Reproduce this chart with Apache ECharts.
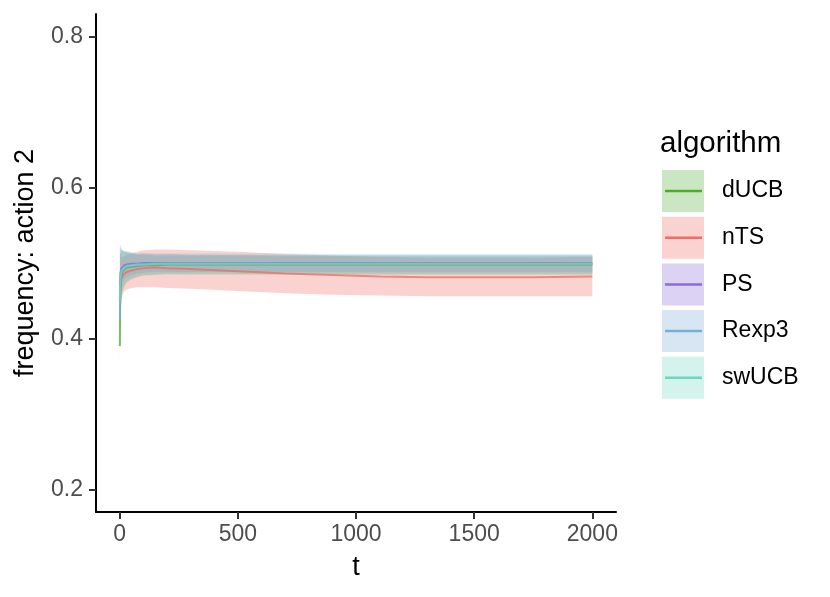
<!DOCTYPE html>
<html>
<head>
<meta charset="utf-8">
<script src="https://cdn.jsdelivr.net/npm/echarts@6/dist/echarts.min.js"></script>
<style>html,body{margin:0;padding:0;background:#fff}#c{width:830px;height:597px}</style>
</head>
<body>
<div id="c"></div>
<script>
const algorithms = ['dUCB', 'nTS', 'PS', 'Rexp3', 'swUCB'];
const tValues = [1, 2, 3, 5, 8, 12, 20, 30, 50, 75, 100, 150, 200, 300, 500, 700, 900, 1100, 1300, 1500, 1750, 2000];

const dUCB_mean = [0.390,0.440,0.462,0.476,0.484,0.489,0.492,0.494,0.495,0.496,0.497,0.497,0.498,0.498,0.498,0.498,0.498,0.498,0.498,0.498,0.498,0.498];
const dUCB_lo   = [0.370,0.395,0.420,0.440,0.453,0.462,0.469,0.474,0.478,0.481,0.483,0.484,0.485,0.485,0.485,0.485,0.485,0.485,0.485,0.485,0.485,0.485];
const dUCB_hi   = [0.450,0.495,0.509,0.514,0.516,0.516,0.515,0.514,0.512,0.511,0.511,0.510,0.510,0.510,0.510,0.509,0.509,0.509,0.509,0.509,0.509,0.509];

const nTS_mean = [0.450,0.462,0.470,0.476,0.480,0.483,0.486,0.488,0.490,0.492,0.493,0.494,0.493,0.492,0.489,0.486,0.484,0.482,0.481,0.481,0.481,0.482];
const nTS_lo   = [0.390,0.415,0.430,0.443,0.452,0.458,0.463,0.465,0.467,0.468,0.468,0.468,0.467,0.466,0.463,0.460,0.458,0.457,0.456,0.456,0.456,0.456];
const nTS_hi   = [0.520,0.514,0.512,0.510,0.508,0.508,0.509,0.511,0.513,0.515,0.517,0.518,0.518,0.517,0.515,0.512,0.510,0.508,0.507,0.507,0.507,0.508];

const PS_mean = [0.470,0.480,0.486,0.490,0.493,0.495,0.497,0.498,0.499,0.499,0.500,0.500,0.500,0.500,0.500,0.500,0.500,0.500,0.500,0.500,0.500,0.500];
const PS_lo   = [0.400,0.430,0.445,0.458,0.467,0.473,0.478,0.481,0.484,0.486,0.487,0.488,0.488,0.488,0.488,0.488,0.488,0.488,0.488,0.488,0.488,0.488];
const PS_hi   = [0.525,0.525,0.524,0.521,0.519,0.517,0.516,0.515,0.514,0.512,0.513,0.512,0.512,0.511,0.511,0.511,0.511,0.511,0.511,0.511,0.511,0.511];

const Rexp3_mean = [0.425,0.458,0.472,0.482,0.487,0.490,0.493,0.495,0.496,0.497,0.498,0.498,0.499,0.499,0.499,0.499,0.499,0.499,0.499,0.499,0.499,0.499];
const Rexp3_lo   = [0.375,0.405,0.427,0.445,0.456,0.464,0.471,0.475,0.479,0.482,0.484,0.485,0.486,0.486,0.486,0.486,0.486,0.486,0.486,0.486,0.486,0.486];
const Rexp3_hi   = [0.485,0.511,0.517,0.519,0.518,0.516,0.515,0.515,0.513,0.512,0.512,0.511,0.512,0.511,0.511,0.510,0.510,0.510,0.510,0.510,0.510,0.510];

const swUCB_mean = [0.450,0.470,0.479,0.486,0.490,0.492,0.494,0.496,0.497,0.498,0.498,0.499,0.499,0.499,0.499,0.499,0.499,0.499,0.499,0.499,0.499,0.499];
const swUCB_lo   = [0.385,0.420,0.437,0.452,0.461,0.467,0.472,0.476,0.480,0.483,0.484,0.485,0.485,0.484,0.484,0.484,0.484,0.484,0.484,0.484,0.484,0.484];
const swUCB_hi   = [0.515,0.520,0.521,0.520,0.519,0.517,0.516,0.516,0.514,0.513,0.513,0.513,0.513,0.513,0.513,0.513,0.512,0.512,0.512,0.512,0.512,0.512];

const xTicks = [0, 500, 1000, 1500, 2000];
const yTicks = [0.2, 0.4, 0.6, 0.8];

const lineColors = ['#4dad2a', '#ef6c62', '#8a6bd9', '#79aed6', '#6dd6c0'];
const fillColors = ['#cbe6c2', '#fad3d0', '#dcd2f3', '#d7e6f2', '#d3f3ec'];
const bandOpacity = [0.22, 0.3, 0.22, 0.22, 0.22];

const stats = {
  dUCB: [dUCB_mean, dUCB_lo, dUCB_hi],
  nTS: [nTS_mean, nTS_lo, nTS_hi],
  PS: [PS_mean, PS_lo, PS_hi],
  Rexp3: [Rexp3_mean, Rexp3_lo, Rexp3_hi],
  swUCB: [swUCB_mean, swUCB_lo, swUCB_hi]
};

const FONT = 'Liberation Sans';
const series = [];
algorithms.forEach((name, k) => {
  const [, lo, hi] = stats[name];
  const rows = tValues.map((t, i) => [t, lo[i], hi[i]]);
  series.push({
    name: name,
    type: 'custom',
    data: rows,
    encode: { x: 0, y: [1, 2] },
    z: 2,
    silent: true,
    animation: false,
    renderItem: function (params, api) {
      if (params.dataIndex !== 0) return null;
      const upper = rows.map(r => api.coord([r[0], r[2]]));
      const lower = rows.map(r => api.coord([r[0], r[1]])).reverse();
      return {
        type: 'polygon',
        shape: { points: upper.concat(lower) },
        style: { fill: lineColors[k], opacity: bandOpacity[k], stroke: null }
      };
    }
  });
});
algorithms.forEach((name, k) => {
  const [mean] = stats[name];
  series.push({
    name: name,
    type: 'line',
    data: tValues.map((t, i) => [t, mean[i]]),
    showSymbol: false,
    symbol: 'none',
    lineStyle: { color: lineColors[k], width: 2, opacity: 0.75 },
    itemStyle: { color: lineColors[k] },
    z: 3,
    animation: false
  });
});

const legendLeft = 662, legendTop = 170, itemH = 42, itemGap = 4.7;
const graphics = algorithms.map((name, k) => ({
  type: 'rect',
  shape: { x: legendLeft + 3, y: legendTop + k * (itemH + itemGap) + itemH / 2 - 1.25, width: 37, height: 2.5 },
  style: { fill: lineColors[k] },
  z: 100
}));

const chart = echarts.init(document.getElementById('c'), null, { renderer: 'canvas' });
chart.setOption({
  backgroundColor: '#ffffff',
  animation: false,
  title: {
    text: 'algorithm',
    left: 660,
    top: 129,
    padding: 0,
    textStyle: { fontFamily: FONT, fontSize: 29.5, fontWeight: 'normal', color: '#000' }
  },
  legend: {
    orient: 'vertical',
    left: legendLeft,
    top: legendTop,
    padding: 0,
    itemWidth: 42,
    itemHeight: 42,
    itemGap: itemGap,
    icon: 'rect',
    selectedMode: false,
    data: algorithms.map((name, k) => ({
      name: name,
      icon: 'rect',
      itemStyle: { color: fillColors[k], borderWidth: 0 }
    })),
    textStyle: { fontFamily: FONT, fontSize: 23, color: '#000', padding: [0, 0, 0, 13] }
  },
  graphic: graphics,
  grid: { left: 96, right: 214, top: 14, bottom: 85, containLabel: false },
  xAxis: {
    type: 'value',
    min: -100,
    max: 2100,
    name: 't',
    nameLocation: 'middle',
    nameGap: 42,
    nameTextStyle: { fontFamily: FONT, fontSize: 27, color: '#000' },
    axisLine: { show: true, onZero: false, lineStyle: { color: '#000', width: 2 } },
    axisTick: { show: true, length: 7, lineStyle: { color: '#333', width: 2 }, customValues: xTicks },
    axisLabel: { customValues: xTicks, fontFamily: FONT, fontSize: 23, color: '#4d4d4d', margin: 11,
      formatter: v => String(v) },
    splitLine: { show: false }
  },
  yAxis: {
    type: 'value',
    min: 0.17,
    max: 0.83,
    name: 'frequency: action 2',
    nameLocation: 'middle',
    nameGap: 57,
    nameTextStyle: { fontFamily: FONT, fontSize: 27, color: '#000' },
    axisLine: { show: true, onZero: false, lineStyle: { color: '#000', width: 2 } },
    axisTick: { show: true, length: 7, lineStyle: { color: '#333', width: 2 }, customValues: yTicks },
    axisLabel: { customValues: yTicks, fontFamily: FONT, fontSize: 23, color: '#4d4d4d', margin: 13,
      formatter: v => v.toFixed(1) },
    splitLine: { show: false }
  },
  series: series
});
</script>
</body>
</html>
